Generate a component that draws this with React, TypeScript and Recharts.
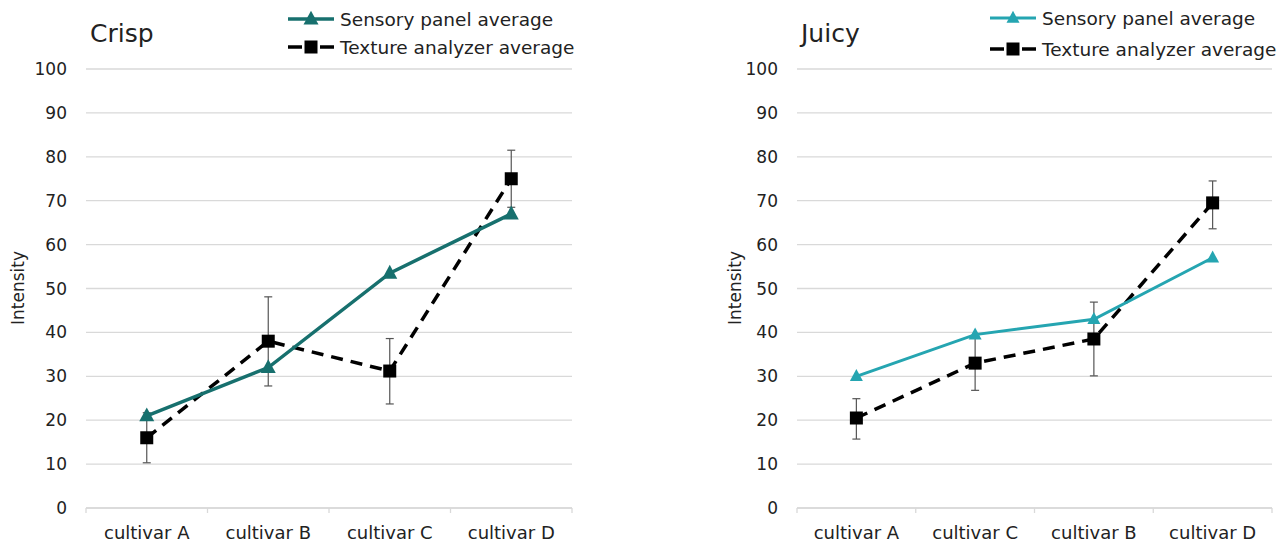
import React from 'react'
import { LineChart, Line, XAxis, YAxis, CartesianGrid, ErrorBar } from 'recharts'

/* ── two panels: Crisp / Juicy — sensory vs texture analyzer ── */

const crispCategories = ['cultivar A', 'cultivar B', 'cultivar C', 'cultivar D']
const crispSensory = [21, 32, 53.5, 67]
const crispTexture = [16, 38, 31.2, 75]
const crispTextureErr = [[5.7, 5.7], [10.2, 10.1], [7.5, 7.4], [6.5, 6.5]]

const juicyCategories = ['cultivar A', 'cultivar C', 'cultivar B', 'cultivar D']
const juicySensory = [30, 39.5, 43, 57]
const juicyTexture = [20.5, 33, 38.5, 69.5]
const juicyTextureErr = [[4.8, 4.4], [6.2, 6.2], [8.4, 8.4], [5.9, 5.0]]

const yTicks = [0, 10, 20, 30, 40, 50, 60, 70, 80, 90, 100]
const seriesNames = ['Sensory panel average', 'Texture analyzer average']

const FONT = 'Verdana, "DejaVu Sans", sans-serif'
const GRID = '#d9d9d9'
const TEXT = '#222'
const TICK_MARGIN = 18

function buildRows(cats: string[], sensory: number[], texture: number[], err: number[][]) {
  return cats.map((c, i) => ({ name: c, sensory: sensory[i], texture: texture[i], err: err[i] }))
}

function Triangle({ cx, cy, size, fill }: any) {
  if (cx == null || cy == null) return null
  const h = size * 0.92
  return (
    <path
      d={`M${cx},${cy - h * 0.6} L${cx + size / 2},${cy + h * 0.4} L${cx - size / 2},${cy + h * 0.4} Z`}
      fill={fill}
    />
  )
}

function Square({ cx, cy, size }: any) {
  if (cx == null || cy == null) return null
  return <rect x={cx - size / 2} y={cy - size / 2} width={size} height={size} fill="#000" />
}

function CategoryTick({ x, y, payload, index, band, count }: any) {
  const axisY = y - TICK_MARGIN
  return (
    <g>
      <line x1={x - band / 2} y1={axisY} x2={x - band / 2} y2={axisY + 5} stroke={GRID} strokeWidth={1.3} />
      {index === count - 1 && (
        <line x1={x + band / 2} y1={axisY} x2={x + band / 2} y2={axisY + 5} stroke={GRID} strokeWidth={1.3} />
      )}
      <text x={x} y={axisY + 31} textAnchor="middle" fontSize={18} fill={TEXT} fontFamily={FONT}>
        {payload.value}
      </text>
    </g>
  )
}

interface PanelProps {
  title: string
  rows: any[]
  color: string
  width: number
  left: number
  yAxisWidth: number
  marginRight: number
  triSize: number
  lineWidth: number
  legendX: number
  legendY: [number, number]
  yLabelX: number
}

function Panel({ title, rows, color, width, left, yAxisWidth, marginRight, triSize, lineWidth, legendX, legendY, yLabelX }: PanelProps) {
  const height = 544
  const plotW = width - yAxisWidth - marginRight
  const band = plotW / rows.length
  const lx = legendX - left
  const ylx = yLabelX - left
  return (
    <div style={{ position: 'absolute', left, top: 0 }}>
      <LineChart width={width} height={height} data={rows} margin={{ top: 69, right: marginRight, bottom: 0, left: 0 }}>
        <CartesianGrid vertical={false} stroke={GRID} strokeWidth={1.3} />
        <XAxis
          dataKey="name"
          height={36}
          padding={{ left: band / 2, right: band / 2 }}
          axisLine={{ stroke: GRID, strokeWidth: 1.3 }}
          tickLine={false}
          tickSize={0}
          tickMargin={TICK_MARGIN}
          interval={0}
          tick={<CategoryTick band={band} count={rows.length} />}
        />
        <YAxis
          width={yAxisWidth}
          domain={[0, 100]}
          ticks={yTicks}
          axisLine={false}
          tickLine={false}
          tickSize={0}
          tickMargin={19}
          tick={{ fontSize: 17, fill: TEXT, fontFamily: FONT }}
        />
        <Line
          dataKey="texture"
          stroke="#000"
          strokeWidth={3.5}
          strokeDasharray="12 8"
          isAnimationActive={false}
          dot={(p: any) => <Square key={p.index} cx={p.cx} cy={p.cy} size={13} />}
          activeDot={false}
        >
          <ErrorBar dataKey="err" width={4} stroke="#555" strokeWidth={1.2} />
        </Line>
        <Line
          dataKey="sensory"
          stroke={color}
          strokeWidth={lineWidth}
          isAnimationActive={false}
          dot={(p: any) => <Triangle key={p.index} cx={p.cx} cy={p.cy} size={triSize} fill={color} />}
          activeDot={false}
        />
        <text x={yAxisWidth + 4} y={42} fontSize={25} fill={TEXT} fontFamily={FONT}>
          {title}
        </text>
        <text
          x={ylx}
          y={288}
          transform={`rotate(-90 ${ylx} 288)`}
          textAnchor="middle"
          fontSize={17}
          fill={TEXT}
          fontFamily={FONT}
        >
          Intensity
        </text>
        {/* legend */}
        <g fontFamily={FONT} fontSize={18.5} fill={TEXT}>
          <line x1={lx} y1={legendY[0]} x2={lx + 46} y2={legendY[0]} stroke={color} strokeWidth={lineWidth} />
          <Triangle cx={lx + 23} cy={legendY[0]} size={triSize} fill={color} />
          <text x={lx + 52} y={legendY[0] + 6.5}>{seriesNames[0]}</text>
          <line x1={lx} y1={legendY[1]} x2={lx + 14} y2={legendY[1]} stroke="#000" strokeWidth={3.5} />
          <line x1={lx + 32} y1={legendY[1]} x2={lx + 46} y2={legendY[1]} stroke="#000" strokeWidth={3.5} />
          <Square cx={lx + 23} cy={legendY[1]} size={13} />
          <text x={lx + 52} y={legendY[1] + 6.5}>{seriesNames[1]}</text>
        </g>
      </LineChart>
    </div>
  )
}

export default function App() {
  const crispRows = buildRows(crispCategories, crispSensory, crispTexture, crispTextureErr)
  const juicyRows = buildRows(juicyCategories, juicySensory, juicyTexture, juicyTextureErr)
  return (
    <div style={{ position: 'absolute', left: 0, top: 0, width: 1282, height: 544, background: '#fff' }}>
      <Panel
        title="Crisp"
        rows={crispRows}
        color="#17706E"
        width={640}
        left={0}
        yAxisWidth={86}
        marginRight={68}
        triSize={15}
        lineWidth={3.5}
        legendX={288}
        legendY={[19, 47]}
        yLabelX={24}
      />
      <Panel
        title="Juicy"
        rows={juicyRows}
        color="#25A5B1"
        width={642}
        left={640}
        yAxisWidth={157}
        marginRight={10}
        triSize={13}
        lineWidth={3}
        legendX={990}
        legendY={[18, 49]}
        yLabelX={741}
      />
    </div>
  )
}
